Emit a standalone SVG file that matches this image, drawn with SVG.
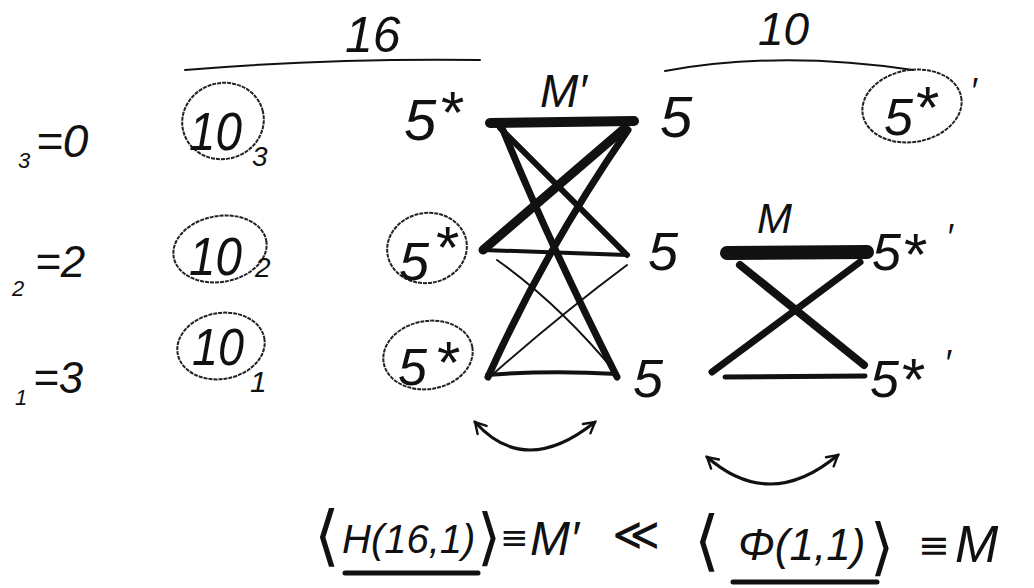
<svg xmlns="http://www.w3.org/2000/svg" width="1034" height="588" viewBox="0 0 1034 588">
<defs>
<style>
text{font-family:"Liberation Sans","DejaVu Sans",sans-serif;font-style:italic;fill:#111}
.ring{fill:none;stroke:#222;stroke-width:2;stroke-dasharray:4 1}
.ln{fill:none;stroke:#111;stroke-linecap:round}
.arc{fill:none;stroke:#111;stroke-width:3;stroke-linecap:round}
.br{font-style:normal;font-family:"DejaVu Sans",sans-serif}
.ast{font-style:normal;font-size:60px}
</style>
<marker id="ah" viewBox="0 0 12 12" refX="10" refY="6" markerWidth="16" markerHeight="16" orient="auto-start-reverse" markerUnits="userSpaceOnUse">
<path d="M2,1.5 L10,6 L2,10.5" fill="none" stroke="#111" stroke-width="1.8" stroke-linecap="round"/>
</marker>
</defs>
<rect width="1034" height="588" fill="#fff"/>

<g id="header16">
<text x="345" y="52" font-size="50">16</text>
<path class="ln" stroke-width="2" d="M185,70 Q330,58 480,60"/>
</g>
<g id="header10">
<text x="758" y="45" font-size="46">10</text>
<path class="ln" stroke-width="2" d="M665,71 Q780,50 913,70"/>
</g>

<g id="row-labels">
<text x="18" y="168" font-size="22">3</text><text x="36" y="157" font-size="46">=0</text>
<text x="12" y="296" font-size="22">2</text><text x="35" y="277" font-size="44">=2</text>
<text x="15" y="405" font-size="22">1</text><text x="33" y="393" font-size="44">=3</text>
</g>

<g id="n10-3">
<ellipse class="ring" cx="223" cy="121" rx="41" ry="38" transform="rotate(-15 223 121)"/>
<text x="189" y="150" font-size="54" textLength="53" lengthAdjust="spacingAndGlyphs">10</text><text x="252" y="166" font-size="28">3</text>
</g>
<g id="n10-2">
<ellipse class="ring" cx="220" cy="249" rx="47" ry="33" transform="rotate(-10 220 249)"/>
<text x="189" y="275" font-size="54" textLength="53" lengthAdjust="spacingAndGlyphs">10</text><text x="255" y="277" font-size="28">2</text>
</g>
<g id="n10-1">
<ellipse class="ring" cx="221" cy="346" rx="44" ry="33" transform="rotate(-10 221 346)"/>
<text x="192" y="365" font-size="52" textLength="52" lengthAdjust="spacingAndGlyphs">10</text><text x="250" y="392" font-size="30">1</text>
</g>

<g id="n5s-3">
<text x="404" y="140" font-size="58">5</text><text class="ast" x="441" y="133">*</text>
</g>
<g id="n5s-2">
<ellipse class="ring" cx="427" cy="248" rx="40" ry="35" transform="rotate(-10 427 248)"/>
<text x="399" y="280" font-size="54">5</text><text class="ast" x="436" y="268">*</text>
</g>
<g id="n5s-1">
<ellipse class="ring" cx="428" cy="355" rx="45" ry="34" transform="rotate(-10 428 355)"/>
<text x="398" y="385" font-size="52">5</text><text class="ast" x="437" y="383">*</text>
</g>

<g id="Mprime-label"><text x="540" y="107" font-size="46">M′</text></g>

<g id="n5-3"><text x="660" y="137" font-size="58">5</text></g>
<g id="n5-2"><text x="648" y="270" font-size="54">5</text></g>
<g id="n5-1"><text x="633" y="397" font-size="54">5</text></g>

<g id="M-label"><text x="757" y="233" font-size="42">M</text></g>

<g id="n5sp-3">
<ellipse class="ring" cx="912" cy="106" rx="50" ry="36" transform="rotate(-10 912 106)"/>
<text x="884" y="135" font-size="52">5</text><text class="ast" x="916" y="128">*</text><text x="970" y="104" font-size="36">′</text>
</g>
<g id="n5sp-2">
<text x="872" y="270" font-size="52">5</text><text class="ast" x="904" y="275">*</text><text x="946" y="250" font-size="36">′</text>
</g>
<g id="n5sp-1">
<text x="870" y="397" font-size="52">5</text><text class="ast" x="902" y="400">*</text><text x="944" y="376" font-size="36">′</text>
</g>

<g id="connectors">
<path class="ln" stroke-width="10" d="M490,123 L634,121"/>
<path class="ln" stroke-width="7" d="M503,130 Q548,240 617,377"/>
<path class="ln" stroke-width="7" d="M628,130 Q545,250 488,377"/>
<path class="ln" stroke-width="9" d="M625,128 L483,250"/>
<path class="ln" stroke-width="6" d="M500,128 L627,255"/>
<path class="ln" stroke-width="4" d="M483,250 L627,255"/>
<path class="ln" stroke-width="2" d="M497,260 Q560,305 615,372"/>
<path class="ln" stroke-width="2" d="M627,265 Q560,315 492,375"/>
<path class="ln" stroke-width="4" d="M487,375 Q550,370 617,374"/>
<path class="ln" stroke-width="14" d="M727,253 L867,252"/>
<path class="ln" stroke-width="8" d="M740,265 L864,365"/>
<path class="ln" stroke-width="7" d="M860,262 L712,372"/>
<path class="ln" stroke-width="5" d="M725,377 L865,376"/>
<path class="arc" d="M475,422 Q525,478 595,422" marker-start="url(#ah)" marker-end="url(#ah)"/>
<path class="arc" d="M707,457 Q770,512 838,455" marker-start="url(#ah)" marker-end="url(#ah)"/>
</g>

<g id="formula">
<text x="314" y="558"><tspan class="br" font-size="66">⟨</tspan><tspan x="342" y="553" font-size="40">H(16,1)</tspan><tspan class="br" x="477" y="558" font-size="62">⟩</tspan><tspan class="br" x="500" y="549" font-size="34">≡</tspan><tspan x="530" y="555" font-size="48">M′</tspan></text>
<text class="br" x="612" y="550" font-size="46">≪</text>
<text x="694" y="563"><tspan class="br" font-size="66">⟨</tspan><tspan x="738" y="560" font-size="44">Φ(1,1)</tspan><tspan class="br" x="870" y="568" font-size="62">⟩</tspan><tspan class="br" x="918" y="558" font-size="38">≡</tspan><tspan x="955" y="562" font-size="52">M</tspan></text>
<path class="ln" stroke-width="5" d="M345,573 L478,573"/>
<path class="ln" stroke-width="5" d="M733,582 L877,582"/>
</g>
</svg>
